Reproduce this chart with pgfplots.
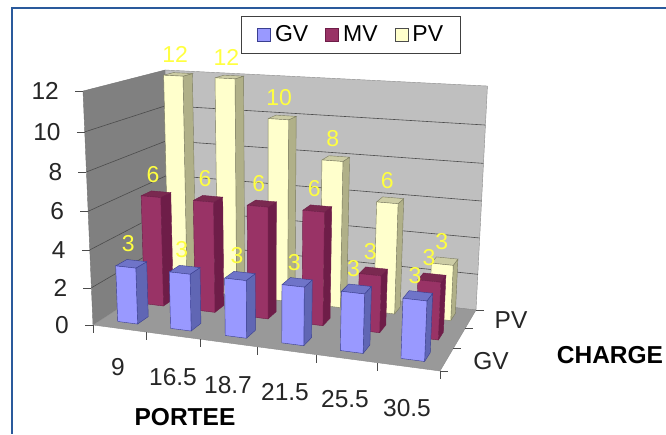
\documentclass[border=0pt]{standalone}
\usepackage{fontspec}
\setmainfont{Liberation Sans}
\usepackage{pgfplots}
\usepackage{pgfplotstable}
\pgfplotsset{compat=1.18}
\definecolor{gvF}{HTML}{9999FF}\definecolor{gvS}{HTML}{6066B4}\definecolor{gvT}{HTML}{6F74C8}\definecolor{gvE}{HTML}{3A3F90}
\definecolor{mvF}{HTML}{993366}\definecolor{mvS}{HTML}{6E1D48}\definecolor{mvT}{HTML}{7A2950}
\definecolor{pvF}{HTML}{FFFFCC}\definecolor{pvS}{HTML}{B0B088}\definecolor{pvT}{HTML}{CCCCA4}
\definecolor{frameblue}{HTML}{2A5A9C}\definecolor{lab}{HTML}{FFFF40}
\pgfplotstableread{
i GV MV PV
0 3 6 12
1 3 6 12
2 3 6 10
3 3 6 8
4 3 3 6
5 3 3 3
}\Data
\pgfplotstableread{
a b c
0 0 0
1 0 0
1 0 1
0 0 1
0 0 0
}\FaceFront
\pgfplotstableread{
a b c
1 0 0
1 1 0
1 1 1
1 0 1
1 0 0
}\FaceSide
\pgfplotstableread{
a b c
0 0 1
1 0 1
1 1 1
0 1 1
0 0 1
}\FaceTop
\newcommand\Geo[2]{\addplot[forget plot,#1] table[x expr={projx(\thisrow{u},\thisrow{d},\thisrow{z})+\thisrow{ox}},y expr={projy(\thisrow{u},\thisrow{d},\thisrow{z})+\thisrow{oy}},row sep=\\]{u d z ox oy\\#2};}
\newcommand\Face[5]{\addplot[forget plot,fill=#4,draw=#5,line width=0.4pt] table[x expr={projx(#1+0.31+0.38*\thisrow{a},#2+0.3+0.4*\thisrow{b},#3*\thisrow{c})},y expr={projy(#1+0.31+0.38*\thisrow{a},#2+0.3+0.4*\thisrow{b},#3*\thisrow{c})}]}
\newcommand\DrawBar[7]{%
 \Face{#1}{#2}{#3}{#5}{#7}\FaceSide;
 \Face{#1}{#2}{#3}{#6}{#7}\FaceTop;
 \Face{#1}{#2}{#3}{#4}{#7}\FaceFront;
}
\newcommand\Series[6]{%
 \pgfplotsforeachungrouped \r in {0,...,5}{%
  \pgfplotstablegetelem{\r}{#1}\of\Data
  \edef\v{\pgfplotsretval}%
  \edef\act{\noexpand\DrawBar{\r}{#2}{\v}{#3}{#4}{#5}{#6}}\act
 }}
\newcommand\Labels[2]{\addplot[forget plot,draw=none,mark=none,nodes near coords,point meta=\thisrow{#1},
  nodes near coords style={font=\fontsize{23}{23}\selectfont,text=lab,anchor=center,xshift=-3pt,yshift=20pt,inner sep=0pt}]
  table[x expr={projx(\thisrow{i}+0.5,#2+0.5,\thisrow{#1})},y expr={projy(\thisrow{i}+0.5,#2+0.5,\thisrow{#1})}]\Data;}
\newcommand\tickfont{\fontsize{24.5}{24.5}\selectfont}
\begin{document}
\begin{tikzpicture}
\begin{axis}[
 scale only axis,width=666pt,height=434pt,xmin=0,xmax=666,ymin=0,ymax=434,y dir=reverse,hide axis,
 /pgf/number format/assume math mode=true,
 declare function={
  projw(\pa,\pb,\pc)=1-0.1*\pa/6+0.1458*\pb/3-0.0543*\pc/12;
  projx(\pa,\pb,\pc)=(303*\pa/6+101.8*\pb/3-14.5*\pc/12+93)/projw(\pa,\pb,\pc);
  projy(\pa,\pb,\pc)=(8.9*\pa/6-9.7*\pb/3-238.9*\pc/12+325)/projw(\pa,\pb,\pc);
 },
 legend columns=3,
 legend style={at={(axis cs:241,16)},anchor=north west,draw=black!75,line width=0.6pt,font=\fontsize{23}{23}\selectfont,
   inner xsep=16pt,inner ysep=8.5pt,row sep=0pt,nodes={inner xsep=1pt,inner ysep=1pt},
   /tikz/every odd column/.append style={column sep=3pt},
   /tikz/every even column/.append style={column sep=16pt}},
 legend cell align=left,
 legend image code/.code={\draw[#1,line width=0.8pt] (0pt,-6.5pt) rectangle (13pt,6.5pt);},
]
\addplot[forget plot,fill=white,draw=none] coordinates {(0,0)(666,0)(666,434)(0,434)(0,0)};
\addplot[forget plot,frameblue,line width=2.4pt] coordinates {(666,8)(12,8)(12,434)};
% walls and floor
\Geo{fill=black!50!white,draw=black!55!white,line width=0.4pt}{0 0 0 0 0\\0 3 0 0 0\\0 3 12 0 0\\0 0 12 0 0\\0 0 0 0 0\\}
\Geo{fill=black!25!white,draw=black!45!white,line width=0.4pt}{0 3 0 0 0\\6 3 0 0 0\\6 3 12 0 0\\0 3 12 0 0\\0 3 0 0 0\\}
\Geo{fill=black!40!white,draw=black!45!white,line width=0.4pt}{0 0 0 0 0\\6 0 0 0 0\\6 3 0 0 0\\0 3 0 0 0\\0 0 0 0 0\\}
% gridlines and z ticks
\pgfplotsinvokeforeach{2,4,6,8,10}{
 \Geo{black!70,line width=0.6pt}{0 0 #1 0 0\\0 3 #1 0 0\\6 3 #1 0 0\\}
}
\pgfplotsinvokeforeach{0,2,4,6,8,10,12}{
 \Geo{black!70,line width=0.6pt}{0 0 #1 -8 0\\0 0 #1 0 0\\}
}
\pgfplotsinvokeforeach{0,1,...,6}{
 \Geo{black!70,line width=0.6pt}{#1 0 0 0 0\\#1 0 0 0 8\\}
}
\pgfplotsinvokeforeach{0,1,2,3}{
 \Geo{black!70,line width=0.6pt}{6 #1 0 0 0\\6 #1 0 8 0\\}
}
% bars, back to front
\Series{PV}{2}{pvF}{pvS}{pvT}{pvS!70!black}
\Series{MV}{1}{mvF}{mvS}{mvT}{mvS}
\Series{GV}{0}{gvF}{gvS}{gvT}{gvE}
% data labels
\Labels{PV}{2}
\Labels{MV}{1}
\Labels{GV}{0}
% tick labels
\addplot[forget plot,draw=none,mark=none,nodes near coords,point meta=\thisrow{z},
  nodes near coords style={font=\tickfont,text=black!85,anchor=east,xshift=-24pt,yshift=0pt,inner sep=0pt}]
  table[x expr={projx(0,0,\thisrow{z})},y expr={projy(0,0,\thisrow{z})}]{
z
0
2
4
6
8
10
12
};
\node[font=\tickfont,text=black!85] at (axis cs:118,367) {9};
\node[font=\tickfont,text=black!85] at (axis cs:173,377) {16.5};
\node[font=\tickfont,text=black!85] at (axis cs:228,385) {18.7};
\node[font=\tickfont,text=black!85] at (axis cs:285,392) {21.5};
\node[font=\tickfont,text=black!85] at (axis cs:345,399) {25.5};
\node[font=\tickfont,text=black!85] at (axis cs:407,408) {30.5};
\node[font=\tickfont,text=black!85] at (axis cs:511,320) {PV};
\node[font=\tickfont,text=black!85] at (axis cs:491,361) {GV};
\node[font=\bfseries\fontsize{24.5}{24.5}\selectfont] at (axis cs:185,417) {PORTEE};
\node[font=\bfseries\fontsize{24.5}{24.5}\selectfont] at (axis cs:610,355) {CHARGE};
\addlegendimage{fill=gvF,draw=gvE}\addlegendentry{GV}
\addlegendimage{fill=mvF,draw=mvS}\addlegendentry{MV}
\addlegendimage{fill=pvF,draw=black!70}\addlegendentry{PV}
\end{axis}
\end{tikzpicture}
\end{document}
